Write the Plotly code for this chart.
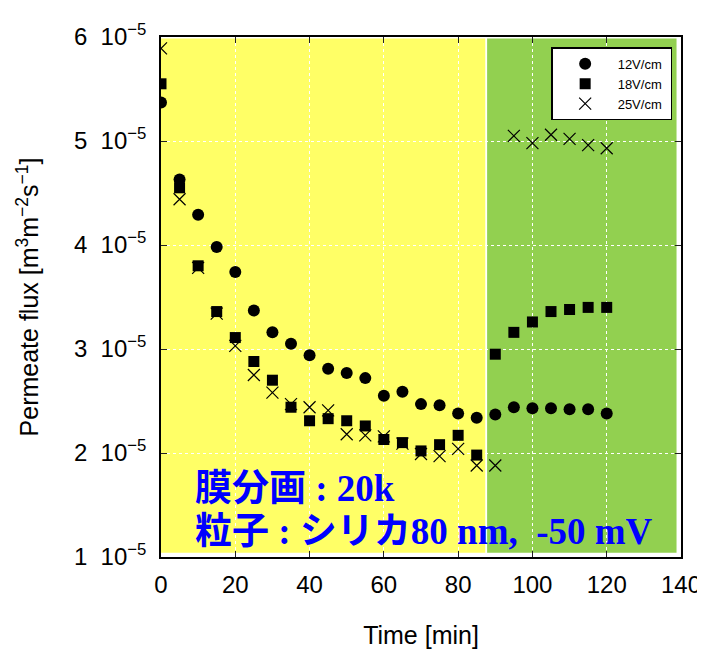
import plotly.graph_objects as go

time = [0, 5, 10, 15, 20, 25, 30, 35, 40, 45, 50, 55, 60, 65, 70, 75, 80, 85, 90,
        95, 100, 105, 110, 115, 120]
flux_12 = [5.37, 4.63, 4.29, 3.98, 3.74, 3.37, 3.16, 3.05, 2.94, 2.81, 2.77, 2.72,
           2.55, 2.59, 2.47, 2.46, 2.38, 2.34, 2.37, 2.44, 2.43, 2.43, 2.42, 2.42, 2.38]
flux_18 = [5.55, 4.55, 3.80, 3.36, 3.11, 2.88, 2.70, 2.44, 2.31, 2.33, 2.31, 2.26,
           2.13, 2.10, 2.02, 2.08, 2.17, 1.98, 2.95, 3.16, 3.26, 3.36, 3.38, 3.40, 3.40]
flux_25 = [5.89, 4.44, 3.78, 3.34, 3.03, 2.75, 2.58, 2.47, 2.44, 2.41, 2.18, 2.17,
           2.16, 2.09, 1.99, 1.97, 2.04, 1.88, 1.88, 5.05, 4.98, 5.06, 5.02, 4.96, 4.93]
names = ["12V/cm\u00a0", "18V/cm\u00a0", "25V/cm\u00a0"]
ytick_vals = [1, 2, 3, 4, 5, 6]
ytick_text = [f"{v}  10<sup>−5</sup>" for v in ytick_vals]
xtick_vals = [0, 20, 40, 60, 80, 100, 120, 140]
note_lines = ["膜分画 : 20k", "粒子 : シリカ80 nm,\u00a0\u00a0-50 mV"]

scale = 1e-5
FONT = "Liberation Sans, Noto Sans CJK JP"

fig = go.Figure()
fig.add_trace(go.Scatter(x=time, y=[v * scale for v in flux_12], mode="markers", name=names[0],
                         marker=dict(symbol="circle", size=12, color="black")))
fig.add_trace(go.Scatter(x=time, y=[v * scale for v in flux_18], mode="markers", name=names[1],
                         marker=dict(symbol="square", size=11, color="black")))
fig.add_trace(go.Scatter(x=time, y=[v * scale for v in flux_25], mode="markers", name=names[2],
                         marker=dict(symbol="x-thin", size=12, color="black",
                                     line=dict(color="black", width=1.2))))

fig.add_shape(type="rect", xref="x", yref="y", x0=0, x1=87.3, y0=1.04e-5, y1=5.985e-5,
              fillcolor="#FFFF66", line_width=0, layer="below")
fig.add_shape(type="rect", xref="x", yref="y", x0=87.8, x1=138.8, y0=1.04e-5, y1=5.985e-5,
              fillcolor="#92D050", line_width=0, layer="below")

for line, ypos in zip(note_lines, [0.131, 0.0486]):
    fig.add_annotation(xref="paper", yref="paper", x=0.062, y=ypos, xanchor="left", yanchor="middle",
                       align="left", showarrow=False, text=f"<b>{line}</b>",
                       font=dict(family="Liberation Serif, Noto Sans CJK JP", size=37, color="#0000FF"))

axis_common = dict(showline=True, linecolor="black", linewidth=1.5, mirror="ticks",
                   ticks="inside", ticklen=6, tickcolor="#222", tickwidth=1.2,
                   showgrid=True, gridcolor="white", gridwidth=1.2, griddash="3px,3px",
                   zeroline=False, automargin=False)

fig.update_xaxes(range=[0, 140], tickvals=xtick_vals, ticklabelstandoff=5,
                 tickfont=dict(family=FONT, size=24, color="black"),
                 title=dict(text="Time [min]", font=dict(family=FONT, size=25, color="black"), standoff=30),
                 **axis_common)
fig.update_yaxes(range=[1e-5, 6e-5], tickvals=[v * scale for v in ytick_vals], ticktext=ytick_text,
                 ticklabelstandoff=8, tickfont=dict(family=FONT, size=24, color="black"),
                 title=dict(text="Permeate flux [m<sup>3</sup>m<sup>−2</sup>s<sup>−1</sup>]",
                            font=dict(family=FONT, size=25, color="black"), standoff=28),
                 **axis_common)

fig.update_layout(width=705, height=650, margin=dict(l=153, r=32, t=29, b=101),
                  plot_bgcolor="white", paper_bgcolor="white",
                  legend=dict(x=0.983, y=0.98, xanchor="right", yanchor="top",
                              bgcolor="white", bordercolor="black", borderwidth=1.5,
                              font=dict(family=FONT, size=13, color="black"),
                              itemwidth=55, tracegroupgap=0))
fig.write_html("out.html")
